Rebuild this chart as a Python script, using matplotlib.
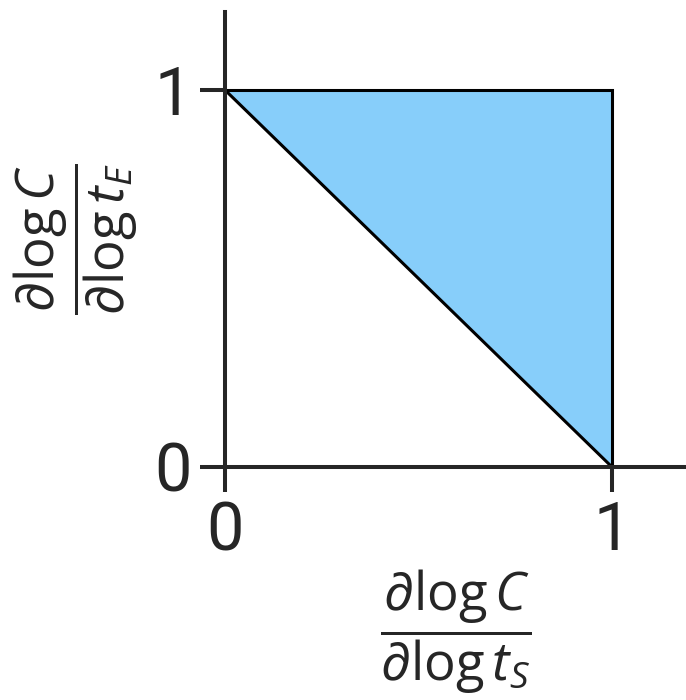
import numpy as np
import matplotlib
matplotlib.use("Agg")
import matplotlib.pyplot as plt

# Triangle region (feasible elasticities)
tri_x = [0, 1, 1]
tri_y = [1, 1, 0]
tick_vals = [0, 1]
tick_labels = ["0", "1"]

plt.rcParams["font.family"] = ["Roboto", "DejaVu Sans"]
plt.rcParams["mathtext.fontset"] = "custom"
plt.rcParams["mathtext.rm"] = "Open Sans"
plt.rcParams["mathtext.it"] = "Open Sans:italic"
plt.rcParams["mathtext.fallback"] = "stixsans"

ink = "#262626"

fig = plt.figure(figsize=(6.86, 7.0), dpi=100)
ax = fig.add_axes([225/686, 233/700, 461/686, 455/700])

ax.fill(tri_x, tri_y, facecolor="#87CEFA", edgecolor="black", linewidth=2.2, joinstyle="miter")

ax.set_xlim(0, 461/387)
ax.set_ylim(0, 455/377)

for side in ["top", "right"]:
    ax.spines[side].set_visible(False)
for side in ["left", "bottom"]:
    ax.spines[side].set_linewidth(2.9)
    ax.spines[side].set_color(ink)

ax.set_xticks(tick_vals)
ax.set_xticklabels(tick_labels)
ax.set_yticks(tick_vals)
ax.set_yticklabels(tick_labels)
ax.tick_params(direction="out", length=18, width=2.9, color=ink,
               labelsize=48, labelcolor=ink, pad=6)

ax.set_xlabel(r"$\dfrac{\partial\log C}{\partial\log t_S}$", fontsize=38, color=ink, labelpad=2)
ax.set_ylabel(r"$\dfrac{\partial\log C}{\partial\log t_E}$", fontsize=38, color=ink, labelpad=10)

fig.savefig("out.png", dpi=100)
